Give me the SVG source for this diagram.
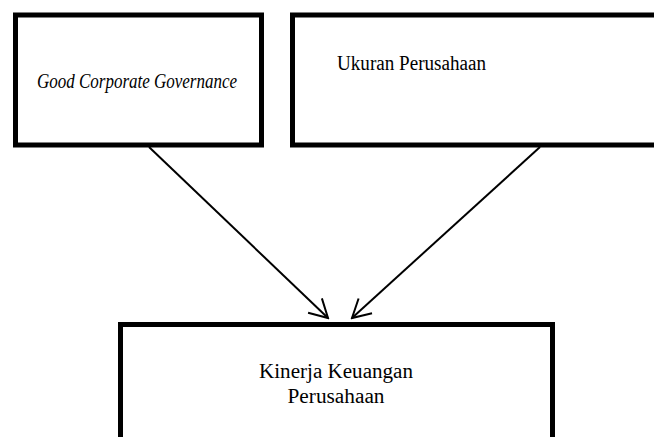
<svg xmlns="http://www.w3.org/2000/svg" width="654" height="437" viewBox="0 0 654 437">
<style>
.box{fill:#fff;stroke:#000;stroke-width:5}
.t{font-family:"Liberation Serif","Times New Roman",serif;font-size:20px;fill:#000;text-anchor:middle}
.c{stroke:#000;stroke-width:2;fill:none}
</style>
<defs>
<marker id="ah" markerUnits="userSpaceOnUse" viewBox="-20 -12 22 24" refX="0" refY="0" markerWidth="22" markerHeight="24" orient="auto">
<path d="M-18,-10 L0,0 L-18,10" fill="none" stroke="#000" stroke-width="2"/>
</marker>
</defs>
<rect width="654" height="437" fill="#fff"/>
<g id="gcg">
<rect class="box" x="15.5" y="15" width="246" height="130"/>
<text class="t" x="137" y="88" font-style="italic" textLength="200" lengthAdjust="spacingAndGlyphs">Good Corporate Governance</text>
</g>
<g id="ukuran">
<rect class="box" x="292.5" y="15" width="370" height="130"/>
<text class="t" x="411.5" y="70" textLength="149" lengthAdjust="spacingAndGlyphs">Ukuran Perusahaan</text>
</g>
<g id="kinerja">
<rect class="box" x="120.5" y="324.5" width="432" height="130"/>
<text class="t" x="336" y="378" textLength="154" lengthAdjust="spacingAndGlyphs">Kinerja Keuangan</text>
<text class="t" x="336" y="403" textLength="97" lengthAdjust="spacingAndGlyphs">Perusahaan</text>
</g>
<g id="connectors">
<line class="c" x1="149" y1="147" x2="328" y2="318" marker-end="url(#ah)"/>
<line class="c" x1="540" y1="147" x2="352" y2="318" marker-end="url(#ah)"/>
</g>
</svg>
